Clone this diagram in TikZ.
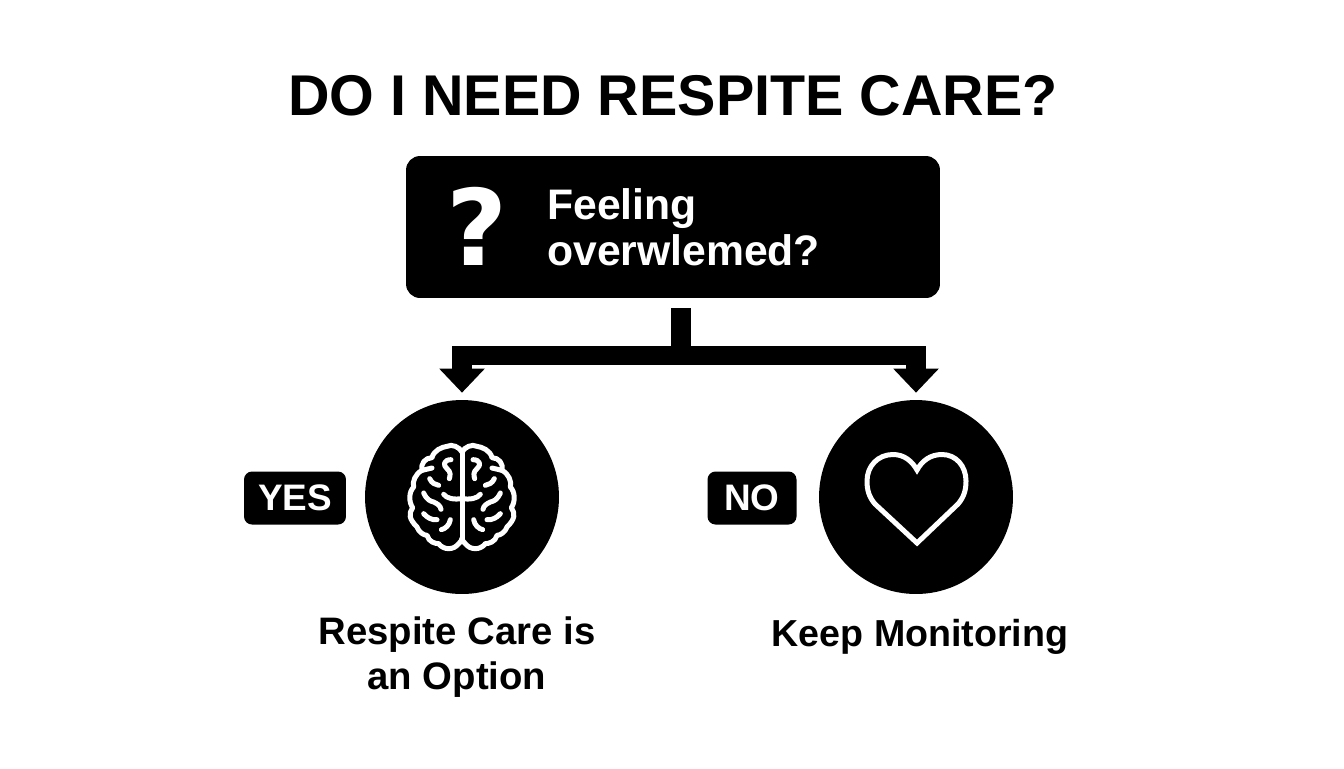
\documentclass[tikz,border=0pt]{standalone}
\usepackage{fontspec}
\setmainfont{Liberation Sans}
\newfontfamily\markfont{DejaVu Sans}
\usetikzlibrary{arrows.meta}
\tikzset{
    flowline/.style={line width=0.39cm},
    flowarrow/.style={flowline, shorten >=0.14cm, -{Triangle[length=0.48cm,width=0.88cm]}},
    askbox/.style={fill=black, rounded corners=0.28cm, minimum width=10.68cm, minimum height=2.84cm},
    resultdot/.style={circle, fill=black, inner sep=0pt, minimum size=3.88cm},
    answertag/.style={fill=black, text=white, rounded corners=0.16cm, minimum height=1.06cm, font=\fontsize{21}{21}\selectfont\bfseries},
    caption/.style={align=center, font=\fontsize{21.8}{26}\selectfont\bfseries},
    iconline/.style={draw=white, line width=0.1cm, line cap=round, line join=round}
}
\begin{document}
\begin{tikzpicture}[x=0.02cm,y=-0.02cm]
    \useasboundingbox (0,0) rectangle (1344,768);

    \node (title) at (673,96) {\fontsize{32.7}{34}\selectfont\bfseries DO I NEED RESPITE CARE?};

    \node[askbox] (ask) at (673,227) {};
    \node[text=white] (mark) at (477,226) {\fontsize{60}{60}\markfont\bfseries ?};
    \node[text=white, anchor=west, align=left, font=\fontsize{24.3}{26}\selectfont\bfseries] (feeling) at (541,227) {Feeling\\overwlemed?};

    \node[resultdot] (care) at (462,497) {};
    \node[resultdot] (keep) at (916,497) {};
    \node[answertag, minimum width=2.04cm] (yes) at (295,498) {YES};
    \node[answertag, minimum width=1.78cm] (no) at (752,498) {NO};
    \node[caption] (caretext) at (457,657) {Respite Care is\\an Option};
    \node[caption, font=\fontsize{21.4}{26}\selectfont\bfseries] (keeptext) at (920,637) {Keep Monitoring};

    \coordinate (split) at (681,355.5);

    \draw[flowline, shorten <=0.2cm] (ask.south -| split) -- (split);
    \draw[flowarrow] (split) -| (care.north);
    \draw[flowarrow] (split) -| (keep.north);

    % brain
    \begin{scope}[shift={(care.center)}, x=0.00667cm, y=-0.00667cm]
        \draw[iconline] (0,-135) -- (0,125);
        \foreach \s in {1,-1} {
            \begin{scope}[xscale=\s]
                \draw[iconline] (0,-135) .. controls (8,-150) and (30,-160) .. (45,-152)
                    .. controls (60,-150) and (85,-140) .. (90,-118)
                    .. controls (110,-118) and (125,-100) .. (120,-80)
                    .. controls (140,-70) and (150,-45) .. (145,-30)
                    .. controls (160,-15) and (160,15) .. (148,32)
                    .. controls (160,50) and (160,65) .. (135,90)
                    .. controls (130,105) and (115,115) .. (105,115)
                    .. controls (100,135) and (80,140) .. (70,140)
                    .. controls (55,160) and (25,160) .. (10,140)
                    .. controls (5,135) and (0,130) .. (0,125);
                \draw[iconline] (33,-112) .. controls (55,-112) and (58,-95) .. (45,-85)
                    .. controls (33,-75) and (35,-65) .. (38,-55);
                \draw[iconline] (90,-87) -- (120,-80);
                \draw[iconline] (97,-55) .. controls (90,-40) and (80,-38) .. (70,-35);
                \draw[iconline] (0,5) .. controls (25,8) and (45,5) .. (55,-8);
                \draw[iconline] (115,-12) .. controls (105,10) and (95,12) .. (85,15)
                    .. controls (75,20) and (65,25) .. (63,37);
                \draw[iconline] (115,50) .. controls (105,62) and (90,70) .. (75,68);
                \draw[iconline] (35,68) .. controls (38,85) and (50,95) .. (62,98);
            \end{scope}
        }
    \end{scope}

    % heart
    \draw[iconline, line join=miter] (917,543) -- (875,504)
        .. controls (869,497) and (867,490) .. (867,481)
        .. controls (867,466) and (878,454.5) .. (893,454.5)
        .. controls (904,454.5) and (912,461) .. (917,470)
        .. controls (922,461) and (930,454.5) .. (942,454.5)
        .. controls (956,454.5) and (966,466) .. (966,481)
        .. controls (966,490) and (964,497) .. (958,504) -- cycle;
\end{tikzpicture}
\end{document}
